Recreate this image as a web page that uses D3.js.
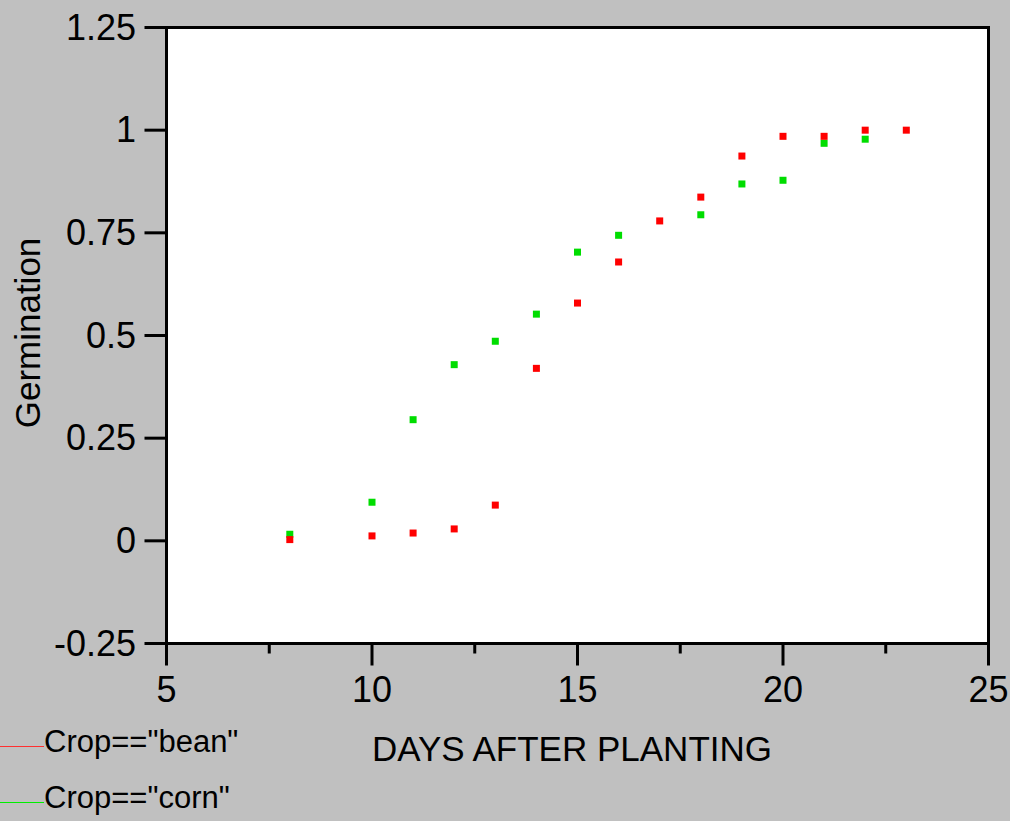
<!DOCTYPE html>
<html>
<head>
<meta charset="utf-8">
<script src="https://cdn.jsdelivr.net/npm/d3@7"></script>
<style>
  html, body { margin: 0; padding: 0; background: #c0c0c0; }
  svg { display: block; }
</style>
</head>
<body>
<svg id="chart" width="1010" height="821"></svg>
<script>
// germination data
const beanDays = [8, 10, 11, 12, 13, 14, 15, 16, 17, 18, 19, 20, 21, 22, 23];
const beanValues = [0.003, 0.012, 0.019, 0.029, 0.087, 0.420, 0.579, 0.679, 0.779, 0.837, 0.937, 0.985, 0.985, 1.0, 1.0];
const cornDays = [8, 10, 11, 12, 13, 14, 15, 16, 18, 19, 20, 21, 22];
const cornValues = [0.016, 0.094, 0.295, 0.429, 0.486, 0.552, 0.703, 0.744, 0.794, 0.869, 0.878, 0.968, 0.978];
const xTicks = [5, 10, 15, 20, 25];
const xMinorTicks = [7.5, 12.5, 17.5, 22.5];
const yTicks = [-0.25, 0, 0.25, 0.5, 0.75, 1, 1.25];
const legendLabels = ['Crop=="bean"', 'Crop=="corn"'];

const svg = d3.select("#chart");

const plotLeft = 166.5, plotRight = 988.5, plotTop = 27.5, plotBottom = 643.5;

const x = d3.scaleLinear().domain([5, 25]).range([plotLeft, plotRight]);
const y = d3.scaleLinear().domain([-0.25, 1.25]).range([plotBottom, plotTop]);

// plot background
svg.append("rect")
    .attr("x", plotLeft).attr("y", plotTop)
    .attr("width", plotRight - plotLeft).attr("height", plotBottom - plotTop)
    .attr("fill", "#ffffff")
    .attr("stroke", "#000")
    .attr("stroke-width", 3);

const tickFont = "'Liberation Sans', Arial, sans-serif";

// x axis ticks
svg.selectAll(".xtick")
    .data(xTicks)
    .enter().append("line")
    .attr("x1", d => x(d)).attr("x2", d => x(d))
    .attr("y1", plotBottom).attr("y2", plotBottom + 22)
    .attr("stroke", "#000").attr("stroke-width", 3);

svg.selectAll(".xminor")
    .data(xMinorTicks)
    .enter().append("line")
    .attr("x1", d => x(d)).attr("x2", d => x(d))
    .attr("y1", plotBottom).attr("y2", plotBottom + 10)
    .attr("stroke", "#000").attr("stroke-width", 3);

svg.selectAll(".xlabel")
    .data(xTicks)
    .enter().append("text")
    .attr("x", d => x(d))
    .attr("y", 702)
    .attr("text-anchor", "middle")
    .style("font-family", tickFont)
    .style("font-size", "36px")
    .text(d => d);

// y axis ticks
svg.selectAll(".ytick")
    .data(yTicks)
    .enter().append("line")
    .attr("x1", plotLeft - 22).attr("x2", plotLeft)
    .attr("y1", d => y(d)).attr("y2", d => y(d))
    .attr("stroke", "#000").attr("stroke-width", 3);

svg.selectAll(".ylabel")
    .data(yTicks)
    .enter().append("text")
    .attr("x", 136)
    .attr("y", d => y(d) + 12)
    .attr("text-anchor", "end")
    .style("font-family", tickFont)
    .style("font-size", "36px")
    .text(d => d);

// axis titles
svg.append("text")
    .attr("x", 572).attr("y", 761)
    .attr("text-anchor", "middle")
    .style("font-family", tickFont)
    .style("font-size", "35px")
    .text("DAYS AFTER PLANTING");

svg.append("text")
    .attr("transform", "translate(40,333) rotate(-90)")
    .attr("text-anchor", "middle")
    .style("font-family", tickFont)
    .style("font-size", "35px")
    .text("Germination");

// points, corn first so bean sits on top
const corn = cornDays.map((d, i) => ({ day: d, value: cornValues[i] }));
const bean = beanDays.map((d, i) => ({ day: d, value: beanValues[i] }));

const size = 7;
svg.selectAll(".corn")
    .data(corn)
    .enter().append("rect")
    .attr("x", d => x(d.day) - size / 2)
    .attr("y", d => y(d.value) - size / 2)
    .attr("width", size).attr("height", size)
    .attr("fill", "#00dd00");

svg.selectAll(".bean")
    .data(bean)
    .enter().append("rect")
    .attr("x", d => x(d.day) - size / 2)
    .attr("y", d => y(d.value) - size / 2)
    .attr("width", size).attr("height", size)
    .attr("fill", "#ff0000");

// legend
const legendColors = ["#ff3030", "#00ee00"];
const legend = svg.selectAll(".legend")
    .data(legendLabels)
    .enter().append("g")
    .attr("transform", (d, i) => "translate(0," + (746 + i * 56) + ")");

legend.append("line")
    .attr("x1", 0).attr("x2", 44)
    .attr("y1", 0.5).attr("y2", 0.5)
    .attr("stroke", (d, i) => legendColors[i])
    .attr("stroke-width", 1);

legend.append("text")
    .attr("x", 44).attr("y", 6)
    .style("font-family", "Arial, 'Liberation Sans', sans-serif")
    .style("font-size", "31px")
    .text(d => d);
</script>
</body>
</html>
